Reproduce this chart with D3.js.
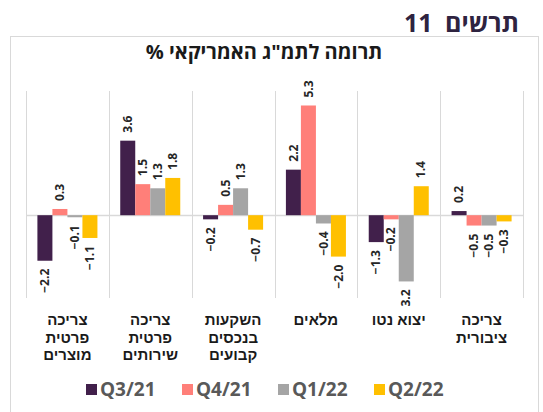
<!DOCTYPE html>
<html>
<head>
<meta charset="utf-8">
<script src="https://cdn.jsdelivr.net/npm/d3@7"></script>
<style>
  body { margin: 0; background: #fff; }
  svg { font-family: "Open Sans", "Liberation Sans", sans-serif; }
</style>
</head>
<body>
<svg id="chart" width="543" height="412"></svg>
<script>
// categories, left to right as drawn
const categories = [
    ['צריכה', 'פרטית', 'מוצרים'],
    ['צריכה', 'פרטית', 'שירותים'],
    ['השקעות', 'בנכסים', 'קבועים'],
    ['מלאים'],
    ['יצוא נטו'],
    ['צריכה', 'ציבורית']
]
const seriesNames = ['Q3/21', 'Q4/21', 'Q1/22', 'Q2/22']
const q321 = [-2.2, 3.6, -0.2, 2.2, -1.3, 0.2]
const q421 = [0.3, 1.5, 0.5, 5.3, -0.2, -0.5]
const q122 = [-0.1, 1.3, 1.3, -0.4, -3.2, -0.5]
const q222 = [-1.1, 1.8, -0.7, -2.0, 1.4, -0.3]
const colors = ['#41204b', '#ff7f79', '#a5a5a5', '#ffc000']

const series = [q321, q421, q122, q222]

const svg = d3.select('#chart')

const plotLeft = 26, plotRight = 523, plotTop = 91, plotBottom = 298

// frame
svg.append('rect')
    .attr('x', 10.5).attr('y', 36.5).attr('width', 528).attr('height', 400)
    .attr('fill', 'none').attr('stroke', '#d9d9d9').attr('stroke-width', 1)

// heading (rtl: 'start' is the right edge)
svg.append('text')
    .attr('x', 519).attr('y', 32)
    .attr('text-anchor', 'start').attr('direction', 'rtl')
    .attr('font-size', 25).attr('font-weight', 'bold').attr('fill', '#2e2340')
    .attr('word-spacing', 6)
    .text('תרשים 11')

svg.append('text')
    .attr('x', 264).attr('y', 59)
    .attr('text-anchor', 'middle').attr('direction', 'rtl')
    .attr('font-size', 20).attr('font-weight', 'bold').attr('fill', '#1a1a1a')
    .text('תרומה לתמ"ג האמריקאי %')

const xscale = d3.scaleBand().domain(d3.range(categories.length)).range([plotLeft, plotRight]).padding(0)
const inner = d3.scaleBand().domain(d3.range(series.length)).range([0, xscale.bandwidth()])
    .paddingInner(0).paddingOuter(0.76)
const yscale = d3.scaleLinear().domain([-4, 6]).range([plotBottom, plotTop])

// category separators
const bounds = categories.map((c, i) => xscale(i)).concat([plotRight])
svg.append('g').selectAll('line').data(bounds).enter().append('line')
    .attr('x1', d => Math.round(d) + 0.5).attr('x2', d => Math.round(d) + 0.5)
    .attr('y1', plotTop).attr('y2', plotBottom)
    .attr('stroke', '#d9d9d9').attr('stroke-width', 1)

// zero line
svg.append('line')
    .attr('x1', plotLeft).attr('x2', plotRight)
    .attr('y1', Math.round(yscale(0)) + 0.5).attr('y2', Math.round(yscale(0)) + 0.5)
    .attr('stroke', '#d9d9d9').attr('stroke-width', 1.5)

const items = []
series.forEach((vals, s) => vals.forEach((v, i) => items.push({ s, i, v })))

svg.append('g').selectAll('rect').data(items).enter().append('rect')
    .attr('x', d => xscale(d.i) + inner(d.s))
    .attr('width', inner.bandwidth())
    .attr('y', d => yscale(Math.max(0, d.v)))
    .attr('height', d => Math.abs(yscale(d.v) - yscale(0)))
    .attr('fill', d => colors[d.s])

// value labels, rotated
svg.append('clipPath').attr('id', 'lblclip')
    .append('rect').attr('x', 0).attr('y', 0).attr('width', 543).attr('height', 307)

const fmt = d3.format('.1f')
svg.append('g').attr('clip-path', 'url(#lblclip)')
    .selectAll('text').data(items).enter().append('text')
    .attr('transform', d => {
        const x = xscale(d.i) + inner(d.s) + inner.bandwidth() / 2
        const y = d.v >= 0 ? yscale(d.v) - 8 : yscale(d.v) + 8
        return `translate(${x},${y}) rotate(-90)`
    })
    .attr('text-anchor', d => d.v >= 0 ? 'start' : 'end')
    .attr('dy', '0.35em')
    .attr('font-size', 12).attr('font-weight', 'bold').attr('fill', '#262626')
    .text(d => fmt(d.v))

// category labels
const cat = svg.append('g').selectAll('text').data(categories).enter().append('text')
    .attr('text-anchor', 'middle').attr('direction', 'rtl')
    .attr('font-family', '"Liberation Sans", sans-serif')
    .attr('font-size', 15).attr('font-weight', 'bold').attr('fill', '#1a1a1a')
cat.selectAll('tspan').data((d, i) => d.map(t => ({ t, i }))).enter().append('tspan')
    .attr('x', d => xscale(d.i) + xscale.bandwidth() / 2)
    .attr('y', (d, j) => 325 + j * 17.5)
    .text(d => d.t)

// legend
const legend = svg.append('g').selectAll('g').data(seriesNames).enter().append('g')
    .attr('transform', (d, i) => `translate(${86 + i * 96},384)`)
legend.append('rect').attr('width', 11).attr('height', 11).attr('fill', (d, i) => colors[i])
legend.append('text')
    .attr('x', 14).attr('y', 12)
    .attr('font-size', 19).attr('font-weight', 'bold').attr('fill', '#595959')
    .text(d => d)
</script>
</body>
</html>
